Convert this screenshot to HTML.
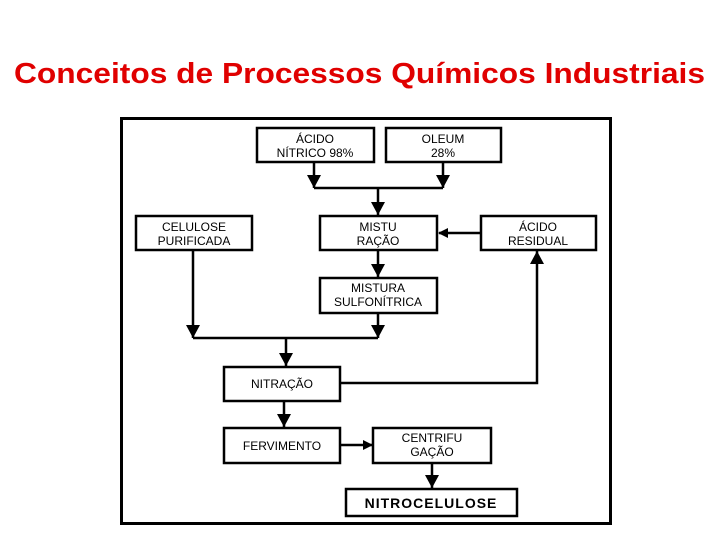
<!DOCTYPE html>
<html><head><meta charset="utf-8"><style>html,body{margin:0;padding:0;background:#fff}svg{display:block}</style></head>
<body>
<svg width="720" height="540" viewBox="0 0 720 540" xmlns="http://www.w3.org/2000/svg">
<defs><marker id="a" markerWidth="10" markerHeight="10" refX="9" refY="5" orient="auto" markerUnits="userSpaceOnUse"><path d="M0,0 L10,5 L0,10 z" fill="#000"/></marker>
<marker id="b" markerWidth="14" markerHeight="14" refX="13" refY="7" orient="auto" markerUnits="userSpaceOnUse"><path d="M0,0 L13,7 L0,14 z" fill="#000"/></marker></defs>
<text x="14" y="83" font-family="Liberation Sans, sans-serif" font-weight="bold" font-size="29" fill="#e00000" textLength="691" lengthAdjust="spacingAndGlyphs">Conceitos de Processos Químicos Industriais</text>
<rect x="121.5" y="118.5" width="489" height="405" fill="#fff" stroke="#000" stroke-width="3"/>
<g fill="#fff" stroke="#000" stroke-width="2.5">
<rect x="257" y="128" width="117" height="34"/>
<rect x="386" y="128" width="115" height="34"/>
<rect x="136" y="216" width="116" height="34"/>
<rect x="320" y="216" width="117" height="34"/>
<rect x="481" y="216" width="115" height="34"/>
<rect x="320" y="278" width="117" height="35"/>
<rect x="224" y="367" width="116" height="34"/>
<rect x="224" y="428" width="116" height="35"/>
<rect x="373" y="428" width="118" height="35"/>
<rect x="346" y="489" width="171" height="27"/>
</g>
<g stroke="#000" stroke-width="2.5" fill="none">
<line x1="314" y1="162" x2="314" y2="188" marker-end="url(#b)"/>
<line x1="443" y1="162" x2="443" y2="188" marker-end="url(#b)"/>
<line x1="314" y1="188" x2="443" y2="188"/>
<line x1="378" y1="188" x2="378" y2="215" marker-end="url(#b)"/>
<line x1="481" y1="233" x2="439" y2="233" marker-end="url(#a)"/>
<line x1="378" y1="250" x2="378" y2="277" marker-end="url(#b)"/>
<line x1="193" y1="250" x2="193" y2="338" marker-end="url(#b)"/>
<line x1="378" y1="313" x2="378" y2="338" marker-end="url(#b)"/>
<line x1="193" y1="338" x2="378" y2="338"/>
<line x1="286" y1="338" x2="286" y2="366" marker-end="url(#b)"/>
<polyline points="340,383 537,383 537,251" marker-end="url(#b)"/>
<line x1="284" y1="401" x2="284" y2="427" marker-end="url(#b)"/>
<line x1="340" y1="445" x2="372" y2="445" marker-end="url(#a)"/>
<line x1="432" y1="463" x2="432" y2="488" marker-end="url(#b)"/>
</g>
<g font-family="Liberation Sans, sans-serif" font-size="12" text-anchor="middle" fill="#000">
<text x="315" y="143">ÁCIDO</text><text x="315" y="157">NÍTRICO 98%</text>
<text x="443" y="143">OLEUM</text><text x="443" y="157">28%</text>
<text x="194" y="231">CELULOSE</text><text x="194" y="245">PURIFICADA</text>
<text x="378" y="231">MISTU</text><text x="378" y="245">RAÇÃO</text>
<text x="538" y="231">ÁCIDO</text><text x="538" y="245">RESIDUAL</text>
<text x="378" y="292">MISTURA</text><text x="378" y="306">SULFONÍTRICA</text>
<text x="282" y="388">NITRAÇÃO</text>
<text x="282" y="450">FERVIMENTO</text>
<text x="432" y="442">CENTRIFU</text><text x="432" y="456">GAÇÃO</text>
<text x="431" y="508" font-weight="bold" font-size="14" letter-spacing="1">NITROCELULOSE</text>
</g>
</svg>
</body></html>
